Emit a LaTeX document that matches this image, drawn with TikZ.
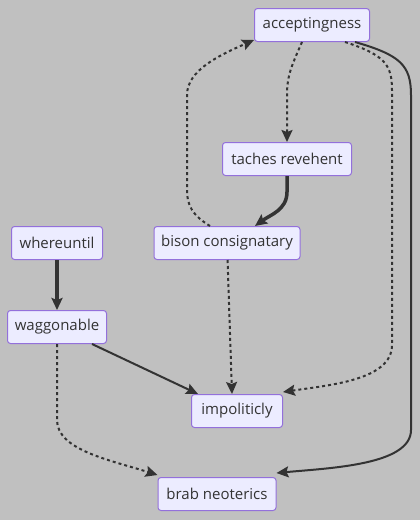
\documentclass[tikz,border=0pt]{standalone}
\usepackage{fontspec}
\setmainfont{Open Sans}
\usetikzlibrary{arrows.meta}
\definecolor{bgsilver}{HTML}{C0C0C0}
\definecolor{boxfill}{HTML}{ECECFF}
\definecolor{boxline}{HTML}{9370DB}
\definecolor{inkgray}{HTML}{333333}
\begin{document}
\begin{tikzpicture}[x=1pt, y=-1pt,
    box/.style={draw=boxline, fill=boxfill, line width=1pt, rounded corners=3pt,
        minimum height=33pt, inner xsep=5pt, text=inkgray, font=\fontsize{15}{18}\selectfont},
    link/.style={draw=inkgray, line width=2pt, -{Stealth[length=12pt, width=11pt, inset=2pt]}},
    boldlink/.style={link, line width=3.5pt},
    dotlink/.style={link, dash pattern=on 3pt off 3pt}]
    \fill[bgsilver] (0,0) rectangle (420,520);
    \useasboundingbox (0,0) rectangle (420,520);
    \node[box, minimum width=115pt] (accept) at (312,25) {acceptingness};
    \node[box, minimum width=129pt] (taches) at (287,159) {taches revehent};
    \node[box, minimum width=146pt] (bison) at (227,243) {bison consignatary};
    \node[box, minimum width=91pt] (where) at (57,243) {whereuntil};
    \node[box, minimum width=99pt] (wagg) at (57,327) {waggonable};
    \node[box, minimum width=91pt] (impol) at (237,411) {impoliticly};
    \node[box, minimum width=118pt] (brab) at (217,494) {brab neoterics};
    % edges
    \draw[dotlink] ([xshift=-10pt]accept.south) .. controls (292,65) and (287,75) .. (287,95) -- (taches.north);
    \draw[boldlink] (taches.south) -- (287,192) .. controls (287,210) and (270,215) .. ([xshift=28pt]bison.north);
    \draw[dotlink] ([xshift=-17pt]bison.north) .. controls (192,215) and (187,205) .. (187,190) -- (187,95)
        .. controls (187,70) and (220,55) .. ([yshift=2pt]accept.south west);
    \draw[dotlink] ([xshift=33pt]accept.south) .. controls (385,55) and (392,65) .. (392,90) -- (392,345)
        .. controls (392,380) and (330,385) .. ([yshift=2pt]impol.north east);
    \draw[link] ([xshift=43pt]accept.south) .. controls (400,55) and (411,65) .. (411,95) -- (411,430)
        .. controls (411,465) and (330,468) .. ([yshift=4pt]brab.north east);
    \draw[boldlink] (where) -- (wagg);
    \draw[link] ([xshift=35pt]wagg.south) -- ([xshift=-39pt]impol.north);
    \draw[dotlink] (bison) -- ([xshift=-5pt]impol.north);
    \draw[dotlink] (wagg.south) -- (57,420) .. controls (57,450) and (110,460) .. ([yshift=2pt]brab.north west);
\end{tikzpicture}
\end{document}
